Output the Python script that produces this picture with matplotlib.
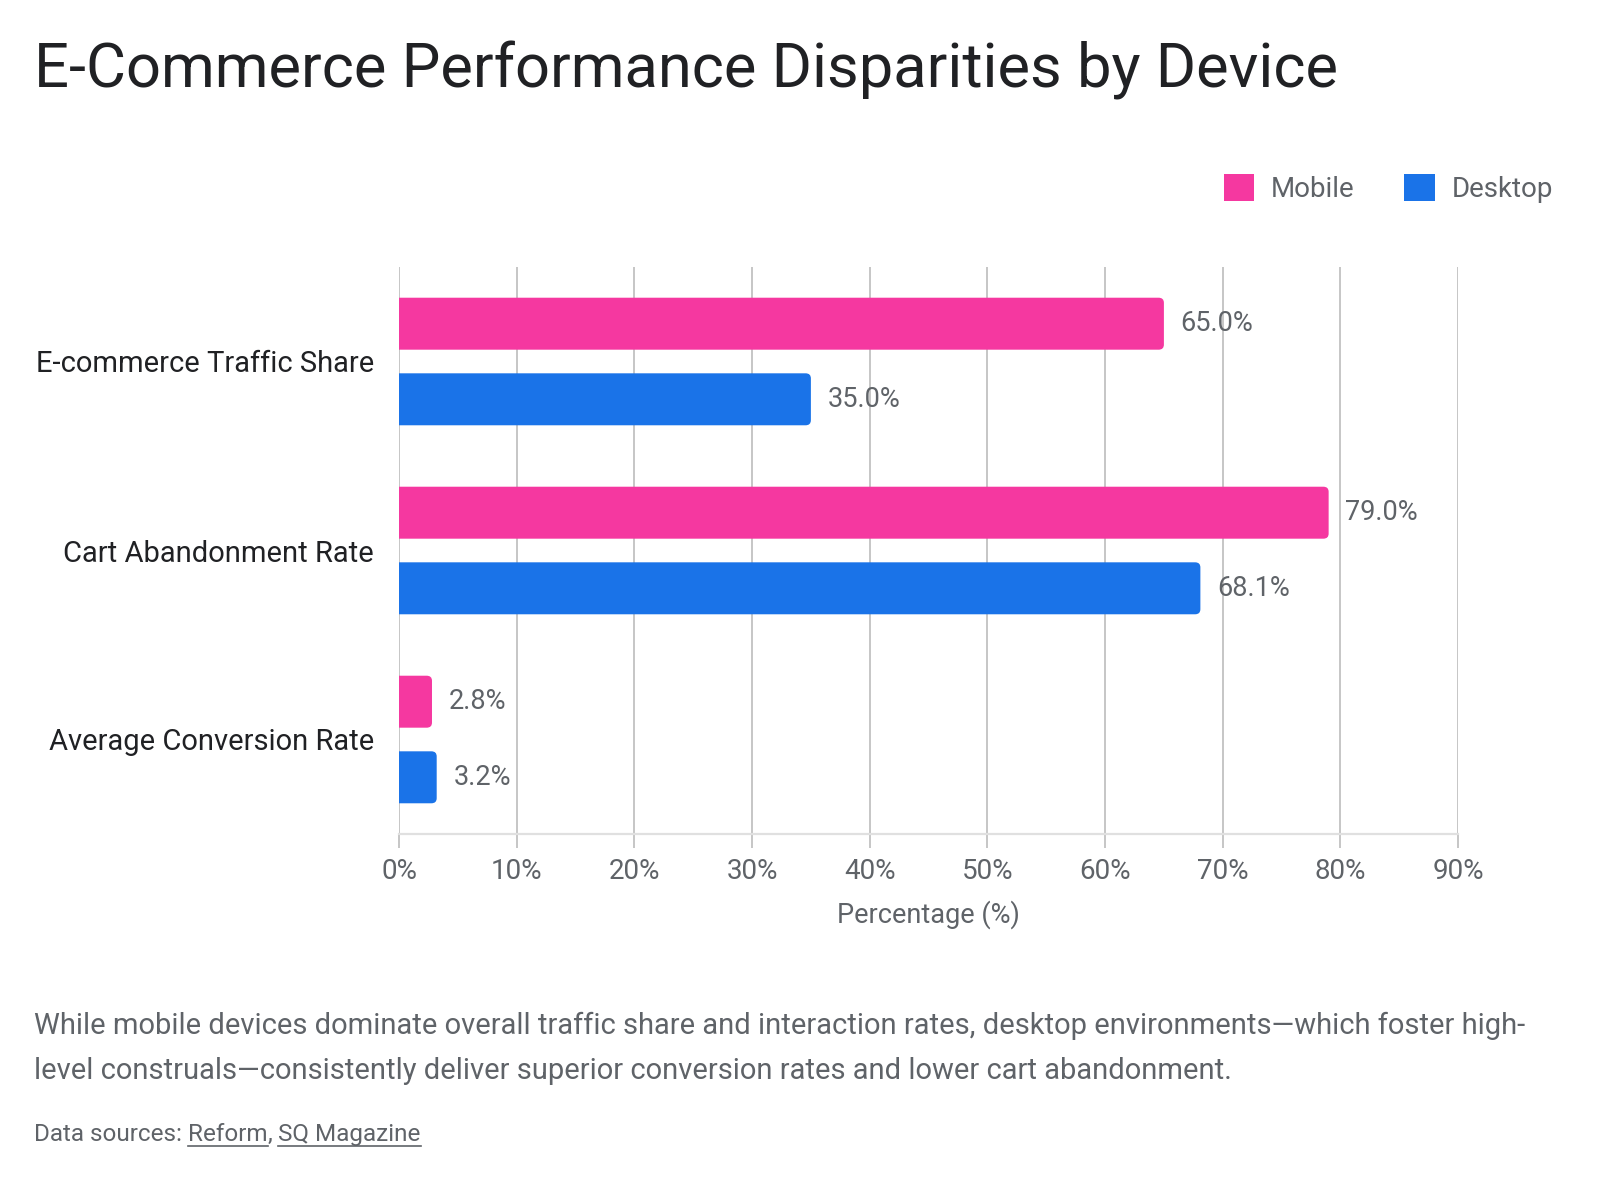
import numpy as np
import matplotlib
matplotlib.use("Agg")
import matplotlib.pyplot as plt
from matplotlib.patches import FancyBboxPatch, Patch
from matplotlib.lines import Line2D

# Data
categories = ["E-commerce Traffic Share", "Cart Abandonment Rate", "Average Conversion Rate"]
mobile = [65.0, 79.0, 2.8]
desktop = [35.0, 68.1, 3.2]
series_names = ["Mobile", "Desktop"]
x_ticks = [0, 10, 20, 30, 40, 50, 60, 70, 80, 90]

title = "E-Commerce Performance Disparities by Device"
note_lines = [
    "While mobile devices dominate overall traffic share and interaction rates, desktop environments\u2014which foster high-",
    "level construals\u2014consistently deliver superior conversion rates and lower cart abandonment.",
]

PINK = "#F538A0"
BLUE = "#1A73E8"
GRID = "#C6C6C6"
GRAY_TEXT = "#5F6368"
DARK_TEXT = "#202124"

plt.rcParams["font.family"] = ["Roboto", "DejaVu Sans"]

fig = plt.figure(figsize=(16, 12), dpi=100)
ax = fig.add_axes([0.2494, 0.305, 0.6619, 0.4725])

y = np.arange(len(categories))
bar_h = 0.275
offset = 0.2

bars_m = ax.barh(y - offset, mobile, height=bar_h, color=PINK)
bars_d = ax.barh(y + offset, desktop, height=bar_h, color=BLUE)

ax.set_xlim(0, 90)
ax.set_ylim(2.5, -0.5)

# rounded bar ends (left side hidden behind the axis edge)
rx = 0.45
ry = 0.027
for bars in (bars_m, bars_d):
    for b in bars:
        b.set_visible(False)
        box = FancyBboxPatch(
            (b.get_x() - 2, b.get_y()), b.get_width() + 2, b.get_height(),
            boxstyle=f"round,pad=0,rounding_size={rx}",
            mutation_aspect=ry / rx,
            facecolor=b.get_facecolor(), edgecolor="none", zorder=3,
        )
        ax.add_patch(box)

# value labels
for bars, vals in ((bars_m, mobile), (bars_d, desktop)):
    for b, v in zip(bars, vals):
        ax.annotate(f"{v:.1f}%", (v, b.get_y() + b.get_height() / 2),
                    xytext=(12, 0), textcoords="offset points",
                    va="center", ha="left", fontsize=19.5, color=GRAY_TEXT, zorder=4)

# axes styling
ax.set_xticks(x_ticks)
ax.set_xticklabels([f"{t}%" for t in x_ticks])
ax.set_yticks(y)
ax.set_yticklabels(categories)
ax.tick_params(axis="x", length=10, width=1.4, color=GRID, labelsize=20,
               labelcolor=GRAY_TEXT, pad=7)
ax.tick_params(axis="y", length=0, labelsize=21, labelcolor=DARK_TEXT, pad=18)
ax.grid(axis="x", color=GRID, linewidth=1.4)
ax.set_axisbelow(True)
for s in ["top", "right", "left"]:
    ax.spines[s].set_visible(False)
ax.spines["bottom"].set_color("#E0E0E0")
ax.spines["bottom"].set_linewidth(1.6)

ax.set_xlabel("Percentage (%)", fontsize=19.5, color=GRAY_TEXT, labelpad=11)

# legend
handles = [Patch(facecolor=PINK, edgecolor="none"), Patch(facecolor=BLUE, edgecolor="none")]
fig.legend(handles, series_names, loc="upper right",
           bbox_to_anchor=(1553 / 1600, 1 - 174 / 1200), ncol=2, frameon=False,
           fontsize=20, handlelength=1.1, handleheight=1.1, handletextpad=0.6,
           columnspacing=1.8, borderpad=0, borderaxespad=0, labelcolor=GRAY_TEXT)

# title and notes
fig.text(34 / 1600, 1 - 70 / 1200, title, fontsize=44.2, color=DARK_TEXT, va="center", ha="left")
fig.text(34 / 1600, 1 - 1026 / 1200, note_lines[0], fontsize=21, color=GRAY_TEXT, va="center")
fig.text(34 / 1600, 1 - 1071 / 1200, note_lines[1], fontsize=21, color=GRAY_TEXT, va="center")

# data sources with underlined links
fig.canvas.draw()
renderer = fig.canvas.get_renderer()
x_px = 34
y_src = 1 - 1141 / 1200
pieces = [("Data sources: ", False), ("Reform", True), (", ", False), ("SQ Magazine", True)]
for txt, link in pieces:
    t = fig.text(x_px / 1600, y_src, txt, fontsize=17.5, color=GRAY_TEXT, va="baseline")
    bb = t.get_window_extent(renderer)
    if link:
        fig.add_artist(Line2D([bb.x0 / 1600, bb.x1 / 1600],
                              [y_src - 5 / 1200, y_src - 5 / 1200],
                              color=GRAY_TEXT, linewidth=1.2))
    x_px = bb.x1

fig.savefig("out.png", dpi=100, facecolor="white")
